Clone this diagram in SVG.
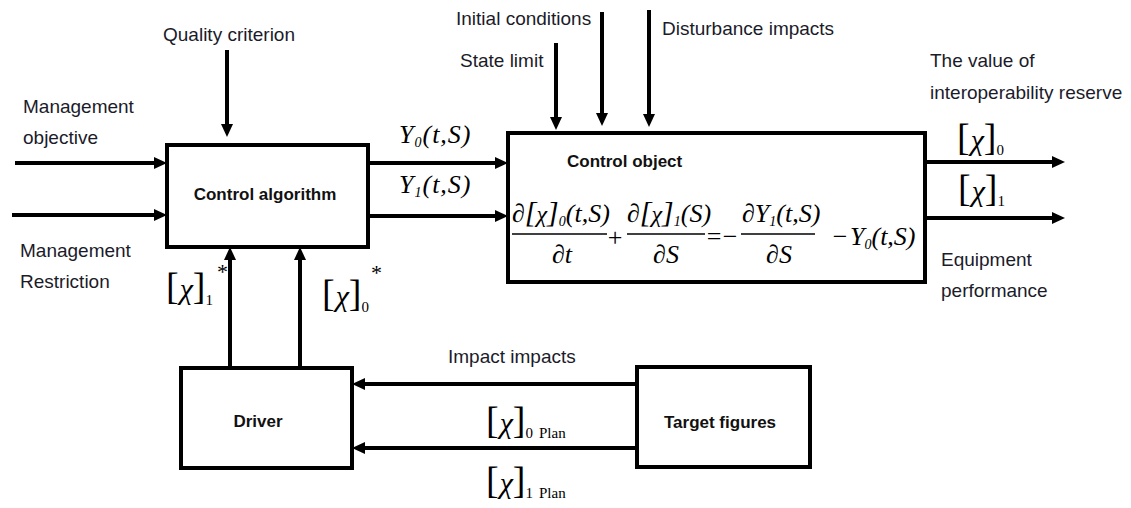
<svg xmlns="http://www.w3.org/2000/svg" width="1131" height="508" viewBox="0 0 1131 508">
<style>
.box{fill:#fff;stroke:#000;stroke-width:4}
.ln{stroke:#000;stroke-width:4;fill:none}
.fl{stroke:#000;stroke-width:1.3}
.lbl{font-family:"Liberation Sans",Arial,sans-serif;font-size:19px;fill:#1b1b2a}
.bold{font-family:"Liberation Sans",Arial,sans-serif;font-size:17px;font-weight:bold;fill:#111}
.m{font-family:"Liberation Serif","Times New Roman",serif;font-style:italic;font-size:26px;fill:#000}
.ls{letter-spacing:1px}
.br{font-family:"Liberation Serif","Times New Roman",serif;font-size:38px;fill:#000}
.brs{font-family:"Liberation Serif","Times New Roman",serif;font-size:30px;fill:#000}
.ch{font-family:"Liberation Serif","Times New Roman",serif;font-style:italic;font-size:30px;fill:#000}
.chs{font-family:"Liberation Serif","Times New Roman",serif;font-style:italic;font-size:24px;fill:#000}
.sb{font-family:"Liberation Serif","Times New Roman",serif;font-size:15px;fill:#000}
.st{font-family:"Liberation Serif","Times New Roman",serif;font-size:22px;fill:#000}
.sbi{font-family:"Liberation Serif","Times New Roman",serif;font-style:italic;font-size:14px;fill:#000}
.op{font-family:"Liberation Serif","Times New Roman",serif;font-size:26px;fill:#000}
</style>
<defs>
<marker id="ah" markerUnits="userSpaceOnUse" markerWidth="13" markerHeight="12" refX="1" refY="6" orient="auto">
<path d="M0,0 L13,6 L0,12 z" fill="#000"/>
</marker>
</defs>

<g id="connectors">
<line class="ln" x1="15" y1="163" x2="155" y2="163" marker-end="url(#ah)"/>
<line class="ln" x1="12" y1="215" x2="155" y2="215" marker-end="url(#ah)"/>
<line class="ln" x1="227" y1="50" x2="227" y2="125" marker-end="url(#ah)"/>
<line class="ln" x1="368" y1="163" x2="496" y2="163" marker-end="url(#ah)"/>
<line class="ln" x1="368" y1="216" x2="496" y2="216" marker-end="url(#ah)"/>
<line class="ln" x1="556" y1="43" x2="556" y2="118" marker-end="url(#ah)"/>
<line class="ln" x1="602" y1="12" x2="602" y2="114" marker-end="url(#ah)"/>
<line class="ln" x1="649" y1="10" x2="649" y2="115" marker-end="url(#ah)"/>
<line class="ln" x1="925" y1="162" x2="1053" y2="162" marker-end="url(#ah)"/>
<line class="ln" x1="925" y1="218" x2="1053" y2="218" marker-end="url(#ah)"/>
<line class="ln" x1="230" y1="368" x2="230" y2="259" marker-end="url(#ah)"/>
<line class="ln" x1="300" y1="368" x2="300" y2="259" marker-end="url(#ah)"/>
<line class="ln" x1="637" y1="384" x2="364" y2="384" marker-end="url(#ah)"/>
<line class="ln" x1="637" y1="448" x2="364" y2="448" marker-end="url(#ah)"/>
</g>

<g id="control-algorithm">
<rect class="box" x="167" y="145" width="201" height="102"/>
<text class="bold" x="265" y="200" text-anchor="middle">Control algorithm</text>
</g>

<g id="control-object">
<rect class="box" x="508" y="133" width="417" height="149"/>
<text class="bold" x="567" y="167">Control object</text>
<text class="m" x="512" y="222">∂<tspan class="brs">[</tspan><tspan class="chs">χ</tspan><tspan class="brs">]</tspan><tspan class="sbi" dy="4">0</tspan><tspan dy="-4">(t,S)</tspan></text>
<line class="fl" x1="512" y1="234" x2="607" y2="234"/>
<text class="m" x="562" y="263" text-anchor="middle">∂t</text>
<text class="op" x="615" y="246" text-anchor="middle">+</text>
<text class="m" x="627" y="222">∂<tspan class="brs">[</tspan><tspan class="chs">χ</tspan><tspan class="brs">]</tspan><tspan class="sbi" dy="4">1</tspan><tspan dy="-4">(S)</tspan></text>
<line class="fl" x1="627" y1="234" x2="705" y2="234"/>
<text class="m" x="666" y="263" text-anchor="middle">∂S</text>
<text class="op" x="714" y="245" text-anchor="middle">=</text>
<text class="op" x="730" y="245" text-anchor="middle">−</text>
<text class="m" x="742" y="222">∂Y<tspan class="sbi" dy="4">1</tspan><tspan dy="-4">(t,S)</tspan></text>
<line class="fl" x1="741" y1="234" x2="815" y2="234"/>
<text class="m" x="779" y="263" text-anchor="middle">∂S</text>
<text class="op" x="840" y="245" text-anchor="middle">−</text>
<text class="m" x="850" y="245">Y<tspan class="sbi" dy="4">0</tspan><tspan dy="-4">(t,S)</tspan></text>
</g>

<g id="driver">
<rect class="box" x="181" y="368" width="171" height="100"/>
<text class="bold" x="258" y="427" text-anchor="middle">Driver</text>
</g>

<g id="target-figures">
<rect class="box" x="637" y="367" width="173" height="100"/>
<text class="bold" x="720" y="428" text-anchor="middle">Target figures</text>
</g>

<g id="labels">
<text class="lbl" x="163" y="41">Quality criterion</text>
<text class="lbl" x="23" y="113">Management</text>
<text class="lbl" x="23" y="144">objective</text>
<text class="lbl" x="20" y="257">Management</text>
<text class="lbl" x="20" y="288">Restriction</text>
<text class="lbl" x="456" y="25">Initial conditions</text>
<text class="lbl" x="460" y="67">State limit</text>
<text class="lbl" x="662" y="35">Disturbance impacts</text>
<text class="lbl" x="930" y="67">The value of</text>
<text class="lbl" x="930" y="99">interoperability reserve</text>
<text class="lbl" x="941" y="266">Equipment</text>
<text class="lbl" x="941" y="297">performance</text>
<text class="lbl" x="448" y="363">Impact impacts</text>

<text class="m ls" x="399" y="143">Y<tspan class="sbi" dy="4">0</tspan><tspan dy="-4">(t,S)</tspan></text>
<text class="m ls" x="399" y="193">Y<tspan class="sbi" dy="4">1</tspan><tspan dy="-4">(t,S)</tspan></text>

<text x="957" y="150"><tspan class="br">[</tspan><tspan class="ch" dx="1">χ</tspan><tspan class="br">]</tspan><tspan class="sb" dy="5">0</tspan></text>
<text x="958" y="201"><tspan class="br">[</tspan><tspan class="ch" dx="1">χ</tspan><tspan class="br">]</tspan><tspan class="sb" dy="5">1</tspan></text>

<text x="166" y="299"><tspan class="br">[</tspan><tspan class="ch" dx="1">χ</tspan><tspan class="br">]</tspan><tspan class="sb" dy="6">1</tspan><tspan class="st" dx="4" dy="-26">*</tspan></text>
<text x="322" y="306"><tspan class="br">[</tspan><tspan class="ch" dx="1">χ</tspan><tspan class="br">]</tspan><tspan class="sb" dy="6">0</tspan><tspan class="st" dx="2" dy="-32">*</tspan></text>

<text x="486" y="433"><tspan class="br">[</tspan><tspan class="ch" dx="1">χ</tspan><tspan class="br">]</tspan><tspan class="sb" dy="5">0</tspan><tspan class="sb" dx="6">Plan</tspan></text>
<text x="486" y="493"><tspan class="br">[</tspan><tspan class="ch" dx="1">χ</tspan><tspan class="br">]</tspan><tspan class="sb" dy="5">1</tspan><tspan class="sb" dx="6">Plan</tspan></text>
</g>
</svg>
